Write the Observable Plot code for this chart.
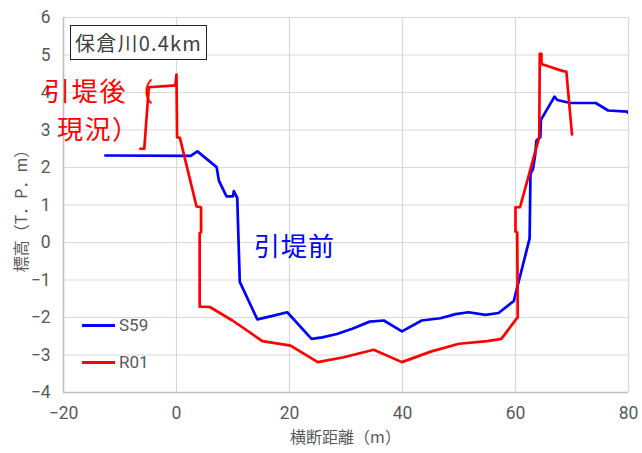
<!DOCTYPE html>
<html>
<head>
<meta charset="utf-8">
<script src="https://cdn.jsdelivr.net/npm/d3@7"></script>
<script src="https://cdn.jsdelivr.net/npm/@observablehq/plot@0.6"></script>
<style>
  html, body { margin: 0; padding: 0; background: #fff; }
  #wrap { position: relative; width: 642px; height: 453px; font-family: "Noto Sans CJK JP", "Noto Sans", sans-serif; }
  .note { position: absolute; white-space: nowrap; line-height: 1; }
  #titlebox { position: absolute; left: 70px; top: 25px; width: 137px; height: 35px; border: 1.3px solid #222; background: #fff; box-sizing: border-box;
    font-size: 20px; color: #404040; display: flex; align-items: center; justify-content: center; letter-spacing: 1.2px; }
  .leg { position: absolute; display: flex; align-items: center; font-family: Roboto, sans-serif; font-size: 17px; color: #595959; }
  .leg span.sw { display: inline-block; width: 33px; height: 3px; margin-right: 4px; }
</style>
</head>
<body>
<div id="wrap"></div>
<script>
// ---- data ----
const s59X = [-12.6, 2.5, 3.7, 7.1, 7.5, 8.85, 10.0, 10.15, 10.75, 11.2, 14.3, 17.2, 19.6, 23.9, 25.8, 28.4, 31.1, 34.2, 36.7, 39.9, 43.4, 46.7, 49.4, 51.7, 54.7, 57.0, 59.7, 62.5, 62.65, 63.1, 63.5, 63.7, 64.4, 64.5, 66.9, 67.4, 69.7, 74.2, 76.4, 79.8, 80.0];
const s59Y = [2.32, 2.31, 2.43, 2.01, 1.65, 1.23, 1.23, 1.37, 1.19, -1.05, -2.05, -1.95, -1.86, -2.57, -2.53, -2.44, -2.30, -2.11, -2.08, -2.37, -2.08, -2.02, -1.91, -1.86, -1.93, -1.88, -1.56, 0.11, 1.83, 1.96, 2.36, 2.72, 2.81, 3.27, 3.89, 3.80, 3.72, 3.72, 3.52, 3.49, 3.45];
const r01X = [-6.4, -5.7, -4.9, -0.2, 0.0, 0.1, 0.6, 3.55, 4.35, 4.35, 4.1, 4.1, 5.9, 9.9, 15.2, 20.2, 25.0, 29.6, 34.9, 39.9, 45.0, 50.0, 55.0, 57.5, 60.4, 60.3, 60.0, 60.0, 60.8, 64.2, 64.3, 64.6, 64.6, 68.4, 69.0, 70.0];
const r01Y = [2.50, 2.50, 4.14, 4.19, 4.48, 2.81, 2.79, 0.96, 0.94, 0.27, 0.25, -1.71, -1.72, -2.08, -2.63, -2.75, -3.19, -3.06, -2.86, -3.19, -2.91, -2.70, -2.63, -2.57, -1.99, 0.27, 0.29, 0.94, 0.94, 2.81, 5.03, 5.03, 4.76, 4.57, 4.56, 2.88];
const xTicks = [-20, 0, 20, 40, 60, 80];
const yTicks = [-4, -3, -2, -1, 0, 1, 2, 3, 4, 5, 6];
const seriesNames = ["S59", "R01"];
const seriesColors = ["#0000ff", "#ff0000"];
const titleText = "保倉川0.4km";
const xLabel = "横断距離（m）";
const yLabel = "標高（T．P．m）";
const noteAfter = ["引堤後（", "現況）"];
const noteBefore = "引堤前";

const s59 = s59X.map((x, i) => ({x, y: s59Y[i]}));
const r01 = r01X.map((x, i) => ({x, y: r01Y[i]}));

const chart = Plot.plot({
  width: 642,
  height: 453,
  marginLeft: 63,
  marginRight: 14,
  marginTop: 17,
  marginBottom: 61,
  style: {fontFamily: "Roboto, 'Noto Sans CJK JP', sans-serif", background: "#fff", overflow: "visible"},
  x: {domain: [xTicks[0], xTicks[xTicks.length - 1]]},
  y: {domain: [yTicks[0], yTicks[yTicks.length - 1]]},
  marks: [
    Plot.gridX(xTicks, {stroke: "#d9d9d9", strokeOpacity: 1, strokeWidth: 1.2}),
    Plot.gridY(yTicks, {stroke: "#d9d9d9", strokeOpacity: 1, strokeWidth: 1.2}),
    Plot.ruleX([xTicks[0]], {stroke: "#bfbfbf", strokeWidth: 1.5}),
    Plot.ruleY([yTicks[0]], {stroke: "#bfbfbf", strokeWidth: 1.5}),
    Plot.axisX({ticks: xTicks, tickSize: 0, tickPadding: 14, fontSize: 17.5, fill: "#595959", label: null}),
    Plot.axisY({ticks: yTicks, tickSize: 0, tickPadding: 13, fontSize: 17.5, fill: "#595959", label: null}),
    Plot.line(s59, {x: "x", y: "y", stroke: seriesColors[0], strokeWidth: 2.7, clip: true}),
    Plot.line(r01, {x: "x", y: "y", stroke: seriesColors[1], strokeWidth: 2.7, clip: true})
  ]
});

const wrap = document.getElementById("wrap");
wrap.appendChild(chart);

function addDiv(html, css, cls) {
  const d = document.createElement("div");
  if (cls) d.className = cls;
  d.innerHTML = html;
  Object.assign(d.style, css);
  wrap.appendChild(d);
  return d;
}
// axis titles
addDiv(xLabel, {left: "63px", width: "565px", top: "428px", textAlign: "center", fontSize: "16px", color: "#595959"}, "note");
addDiv(yLabel, {left: "20px", top: "207px", fontSize: "16px", color: "#595959", transform: "translate(-50%,-50%) rotate(-90deg)"}, "note");
// title box
addDiv(titleText, {}, null).id = "titlebox";
// annotations
addDiv(noteAfter[0], {left: "44px", top: "77px", fontSize: "26px", color: "#ff0000", letterSpacing: "1.8px"}, "note");
addDiv(noteAfter[1], {left: "57px", top: "115px", fontSize: "26px", color: "#ff0000", letterSpacing: "1.5px"}, "note");
addDiv(noteBefore, {left: "254px", top: "232px", fontSize: "26px", color: "#0000ff", letterSpacing: "1px"}, "note");
// legend
addDiv(`<span class="sw" style="background:${seriesColors[0]}"></span>${seriesNames[0]}`, {left: "82px", top: "315px"}, "leg");
addDiv(`<span class="sw" style="background:${seriesColors[1]}"></span>${seriesNames[1]}`, {left: "82px", top: "352px"}, "leg");
</script>
</body>
</html>
